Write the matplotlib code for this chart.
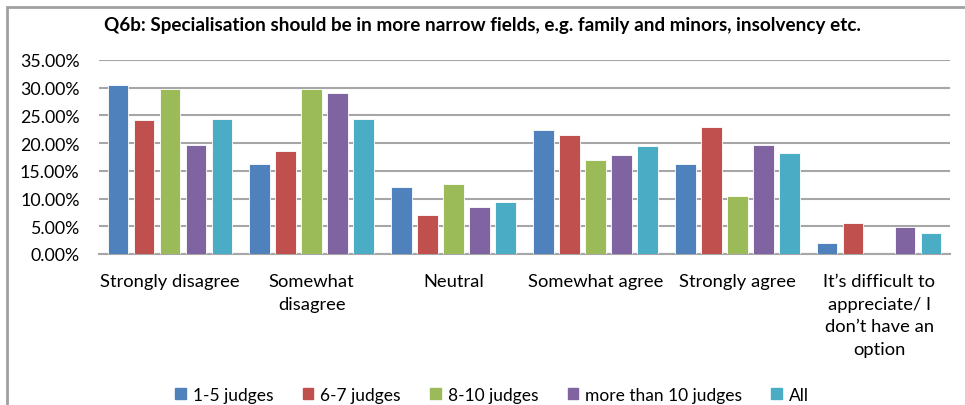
import numpy as np
import matplotlib
matplotlib.use("Agg")
import matplotlib.pyplot as plt
from matplotlib.patches import Rectangle, Patch

plt.rcParams["font.family"] = ["Lato", "DejaVu Sans"]

# ======================== survey answers, share of respondents per group
categories = ["Strongly disagree", "Somewhat\ndisagree", "Neutral", "Somewhat agree",
              "Strongly agree", "It\u2019s difficult to\nappreciate/ I\ndon\u2019t have an\noption"]
groups = ["1-5 judges", "6-7 judges", "8-10 judges", "more than 10 judges", "All"]

judges_1_5 = [0.305, 0.162, 0.121, 0.224, 0.162, 0.019]
judges_6_7 = [0.242, 0.185, 0.070, 0.214, 0.229, 0.056]
judges_8_10 = [0.298, 0.298, 0.127, 0.170, 0.105, 0.0]
judges_10_plus = [0.196, 0.290, 0.084, 0.179, 0.196, 0.049]
judges_all = [0.244, 0.244, 0.094, 0.194, 0.183, 0.037]

series = [judges_1_5, judges_6_7, judges_8_10, judges_10_plus, judges_all]
colors = ["#4F81BD", "#C0504D", "#9BBB59", "#8064A2", "#4BACC6"]

# ======================== figure
fig = plt.figure(figsize=(9.65, 4.06), dpi=100)
ax = fig.add_axes([99 / 965, 1 - 255 / 406, 851 / 965, 194 / 406])

x = np.arange(len(categories))
step = 0.1835
width = 0.146
for j, vals in enumerate(series):
    ax.bar(x + (j - 2) * step, vals, width, color=colors[j],
           edgecolor="white", linewidth=0.6, zorder=3)

ax.set_xlim(-0.5, len(categories) - 0.5)
ax.set_ylim(0, 0.35)
ax.set_yticks(np.arange(0, 0.351, 0.05))
ax.set_yticklabels(["%.2f%%" % (v * 100) for v in np.arange(0, 0.351, 0.05)], fontsize=12.8)
ax.yaxis.grid(True, color="#a6a6a6", linewidth=1.5, zorder=0)
ax.set_axisbelow(True)
for s in ["top", "right", "left"]:
    ax.spines[s].set_visible(False)
ax.spines["bottom"].set_color("#a6a6a6")
ax.spines["bottom"].set_linewidth(1.5)
ax.tick_params(axis="both", length=0)
ax.tick_params(axis="y", pad=14)
ax.tick_params(axis="x", pad=14)
ax.set_xticks(x)
ax.set_xticklabels(categories, fontsize=13.2, linespacing=1.5, multialignment="center")

fig.text(0.5, 1 - 25 / 406, "Q6b: Specialisation should be in more narrow fields, e.g. family and minors, insolvency etc.",
         ha="center", va="center", fontsize=13.6, fontweight="bold")

handles = [Patch(color=c) for c in colors]
fig.legend(handles, groups, loc="center", bbox_to_anchor=(0.51, 1 - 396 / 406), ncol=5,
           frameon=False, fontsize=12.5, handlelength=0.6, handleheight=0.6,
           handletextpad=0.4, columnspacing=1.7)

# chart frame
fig.patches.append(Rectangle((7 / 965, -0.5), 2, 0.5 + 1 - 8 / 406, transform=fig.transFigure,
                             fill=False, edgecolor="#a0a0a0", linewidth=2))

plt.savefig("out.png")
